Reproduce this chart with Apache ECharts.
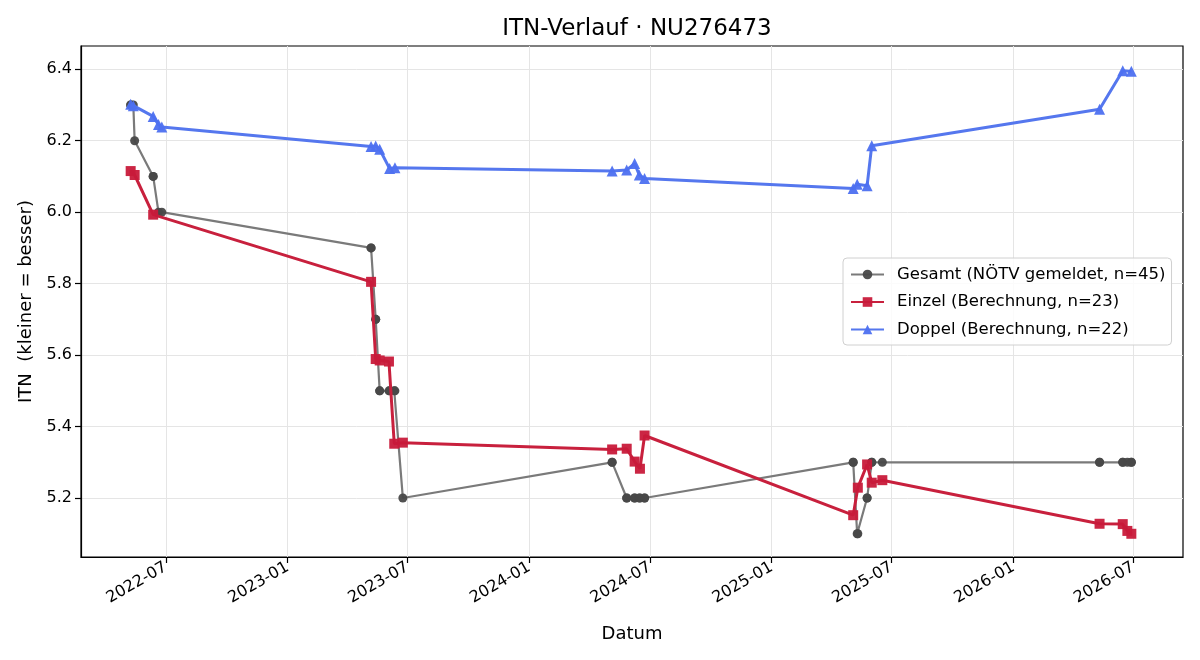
<!DOCTYPE html>
<html><head><meta charset="utf-8">
<script src="https://cdn.jsdelivr.net/npm/echarts@6/dist/echarts.min.js"></script>
<style>html,body{margin:0;padding:0;background:#fff}#c{width:1200px;height:660px}</style>
</head><body><div id="c"></div>
<script>
// ---- data ----
const einzelDates = ['2022-05-09','2022-05-15','2022-06-12',
  '2023-05-07','2023-05-14','2023-05-20','2023-06-03','2023-06-11','2023-06-24',
  '2024-05-05','2024-05-27','2024-06-08','2024-06-16','2024-06-23',
  '2025-05-04','2025-05-11','2025-05-25','2025-06-01','2025-06-17',
  '2026-05-11','2026-06-15','2026-06-22','2026-06-28'];
const einzelValues = [6.115,6.104,5.993,
  5.805,5.589,5.585,5.582,5.352,5.355,
  5.336,5.338,5.302,5.282,5.375,
  5.152,5.229,5.294,5.243,5.250,
  5.128,5.127,5.108,5.100];

const doppelDates = ['2022-05-09','2022-05-13','2022-06-12','2022-06-20','2022-06-25',
  '2023-05-07','2023-05-14','2023-05-20','2023-06-04','2023-06-12',
  '2024-05-05','2024-05-27','2024-06-08','2024-06-15','2024-06-23',
  '2025-05-04','2025-05-10','2025-05-25','2025-06-01',
  '2026-05-11','2026-06-15','2026-06-28'];
const doppelValues = [6.302,6.298,6.268,6.245,6.238,
  6.184,6.185,6.176,6.122,6.124,
  6.115,6.118,6.136,6.104,6.094,
  6.066,6.078,6.074,6.186,
  6.288,6.396,6.394];

const gesamtDates = ['2022-05-09','2022-05-09','2022-05-13','2022-05-15','2022-06-12','2022-06-12','2022-06-20','2022-06-25',
  '2023-05-07','2023-05-07','2023-05-14','2023-05-14','2023-05-20','2023-05-20','2023-06-03','2023-06-04','2023-06-11','2023-06-12','2023-06-24',
  '2024-05-05','2024-05-05','2024-05-27','2024-05-27','2024-06-08','2024-06-08','2024-06-15','2024-06-16','2024-06-23','2024-06-23',
  '2025-05-04','2025-05-04','2025-05-10','2025-05-11','2025-05-25','2025-05-25','2025-06-01','2025-06-01','2025-06-17',
  '2026-05-11','2026-05-11','2026-06-15','2026-06-15','2026-06-22','2026-06-28','2026-06-28'];
const gesamtValues = [6.3,6.3,6.3,6.2,6.1,6.1,6.0,6.0,
  5.9,5.9,5.7,5.7,5.5,5.5,5.5,5.5,5.5,5.5,5.2,
  5.3,5.3,5.2,5.2,5.2,5.2,5.2,5.2,5.2,5.2,
  5.3,5.3,5.1,5.1,5.2,5.2,5.3,5.3,5.3,
  5.3,5.3,5.3,5.3,5.3,5.3,5.3];

const xTickLabels = ['2022-07','2023-01','2023-07','2024-01','2024-07','2025-01','2025-07','2026-01','2026-07'];
const yTickValues = [5.2,5.4,5.6,5.8,6.0,6.2,6.4];

const seriesNames = ['Gesamt (NÖTV gemeldet, n=45)','Einzel (Berechnung, n=23)','Doppel (Berechnung, n=22)'];

// ---- helpers ----
function ts(s){ const p=s.split('-').map(Number); return Date.UTC(p[0],p[1]-1,p[2]||1); }
function pairs(d,v){ return d.map((s,i)=>[ts(s),v[i]]); }
const xTickValues = xTickLabels.map(ts);
const xMin = ts('2022-02-23'), xMax = ts('2026-09-14');
const yMin = 5.035, yMax = 6.465;
const FONT = 'DejaVu Sans';

const chart = echarts.init(document.getElementById('c'), null, {renderer:'canvas'});
chart.setOption({
  animation: false,
  backgroundColor: '#fff',
  textStyle: {fontFamily: FONT},
  title: {
    text: 'ITN-Verlauf · NU276473',
    left: 632, top: 13, textAlign: 'center',
    textStyle: {fontFamily: FONT, fontSize: 23, fontWeight: 'normal', color: '#000'}
  },
  grid: {left: 81, top: 46, width: 1102, height: 511, show: true, borderColor: '#000', borderWidth: 1.2, backgroundColor: 'transparent', containLabel: false},
  legend: {
    orient: 'vertical', left: 843, top: 258,
    padding: [8, 6, 7, 7], itemGap: 10.5, itemWidth: 33, itemHeight: 12,
    backgroundColor: 'rgba(255,255,255,0.85)', borderColor: '#d0d0d0', borderWidth: 1, borderRadius: 4,
    textStyle: {fontFamily: FONT, fontSize: 16.5, color: '#000', lineHeight: 16, padding: [0,0,0,8]},
    data: seriesNames
  },
  xAxis: {
    type: 'value', min: xMin, max: xMax, scale: true,
    name: 'Datum', nameLocation: 'middle', nameGap: 68,
    nameTextStyle: {fontFamily: FONT, fontSize: 18, color: '#000'},
    axisLine: {show: true, onZero: false, lineStyle: {color: '#000', width: 1.2}},
    axisTick: {show: true, length: 6, lineStyle: {color: '#000', width: 1.2}, customValues: xTickValues},
    axisLabel: {
      customValues: xTickValues, rotate: 30, margin: 9, color: '#000', fontFamily: FONT, fontSize: 16,
      formatter: function(v){ const d=new Date(v); return d.getUTCFullYear()+'-'+String(d.getUTCMonth()+1).padStart(2,'0'); }
    },
    splitLine: {show: true, lineStyle: {color: '#e5e5e5', width: 1}}
  },
  yAxis: {
    type: 'value', min: yMin, max: yMax, scale: true,
    name: 'ITN  (kleiner = besser)', nameLocation: 'middle', nameGap: 46,
    nameTextStyle: {fontFamily: FONT, fontSize: 18, color: '#000'},
    axisLine: {show: true, onZero: false, lineStyle: {color: '#000', width: 1.2}},
    axisTick: {show: true, length: 6, lineStyle: {color: '#000', width: 1.2}, customValues: yTickValues},
    axisLabel: {customValues: yTickValues, margin: 9, color: '#000', fontFamily: FONT, fontSize: 16,
      formatter: function(v){ return v.toFixed(1); }},
    splitLine: {show: true, lineStyle: {color: '#e5e5e5', width: 1}}
  },
  series: [
    {
      name: seriesNames[0], type: 'line', data: pairs(gesamtDates, gesamtValues),
      symbol: 'circle', symbolSize: 9, showAllSymbol: true,
      lineStyle: {color: '#7a7a7a', width: 2.2},
      itemStyle: {color: '#484848', opacity: 0.95},
      emphasis: {disabled: true}, z: 2
    },
    {
      name: seriesNames[1], type: 'line', data: pairs(einzelDates, einzelValues),
      symbol: 'rect', symbolSize: 10, showAllSymbol: true,
      lineStyle: {color: '#c8203d', width: 3},
      itemStyle: {color: '#c81a3a', opacity: 0.95},
      emphasis: {disabled: true}, z: 3
    },
    {
      name: seriesNames[2], type: 'line', data: pairs(doppelDates, doppelValues),
      symbol: 'triangle', symbolSize: 11, showAllSymbol: true,
      lineStyle: {color: '#5577ee', width: 3},
      itemStyle: {color: '#4d70f0', opacity: 0.95},
      emphasis: {disabled: true}, z: 4
    }
  ]
});
</script>
</body></html>
